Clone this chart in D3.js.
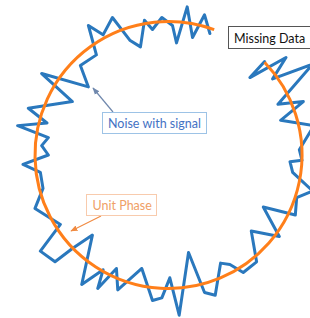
<!DOCTYPE html>
<html>
<head>
<meta charset="utf-8">
<script src="https://cdn.jsdelivr.net/npm/d3@7"></script>
<style>
  html, body { margin: 0; padding: 0; background: #ffffff; }
  svg { display: block; }
</style>
</head>
<body>
<div id="chart"></div>
<script>
// ---- data (unit-phase coordinates) ----
const noiseX = [0.72, 0.61, 0.88, 0.78, 1.08, 0.82, 1.01, 0.84, 1.09, 0.98, 1.00, 0.91, 0.93, 1.08, 0.96, 0.95,
  0.71, 0.83, 0.62, 0.66, 0.56, 0.46, 0.39, 0.35, 0.27, 0.15, 0.08, 0.01, -0.05, -0.12, -0.20, -0.38,
  -0.39, -0.53, -0.49, -0.65, -0.57, -0.72, -0.85, -0.96, -0.81, -1.00, -0.94, -0.96, -1.09, -0.90, -0.95, -0.90,
  -1.13, -0.91, -1.05, -0.72, -0.95, -0.60, -0.66, -0.54, -0.60, -0.49, -0.42, -0.29, -0.21, -0.18, -0.12, -0.05,
  0.03, 0.06, 0.14, 0.18, 0.27, 0.31];
const noiseY = [0.70, 0.58, 0.73, 0.57, 0.68, 0.38, 0.40, 0.26, 0.22, 0.04, -0.04, -0.05, -0.13, -0.27, -0.32, -0.45,
  -0.39, -0.61, -0.57, -0.80, -0.88, -0.82, -0.81, -1.05, -1.03, -0.73, -1.20, -0.92, -1.07, -1.09, -0.85, -1.01,
  -0.85, -1.00, -0.86, -0.97, -0.60, -0.70, -0.80, -0.72, -0.52, -0.40, -0.25, -0.13, -0.07, 0.00, 0.07, 0.13,
  0.22, 0.24, 0.35, 0.40, 0.61, 0.51, 0.67, 0.75, 0.97, 0.90, 1.03, 0.86, 0.81, 1.01, 0.94, 1.03,
  0.97, 0.84, 1.11, 0.88, 1.05, 0.91];
const phaseRadius = 1;
const phaseStartDeg = 46;   // clockwise from 12 o'clock
const phaseEndDeg = 380;
const labelMissing = "Missing Data";
const labelNoise = "Noise with signal";
const labelPhase = "Unit Phase";

// ---- layout ----
const W = 310, H = 318;
const cx = 168.5, cy = 155, R = 133.5;

const svg = d3.select("#chart").append("svg")
  .attr("width", W).attr("height", H)
  .attr("viewBox", `0 0 ${W} ${H}`);

const x = d3.scaleLinear().domain([-1, 1]).range([cx - R, cx + R]);
const y = d3.scaleLinear().domain([-1, 1]).range([cy + R, cy - R]);
const r = d3.scaleLinear().domain([0, 1]).range([0, R]);

const blue = "#2a78bd";
const orange = "#ff7f1a";

// noisy signal
const pts = noiseX.map((v, i) => [v, noiseY[i]]);
svg.append("path")
  .datum(pts)
  .attr("fill", "none")
  .attr("stroke", blue)
  .attr("stroke-width", 3)
  .attr("stroke-linejoin", "round")
  .attr("stroke-linecap", "round")
  .attr("d", d3.line().x(d => x(d[0])).y(d => y(d[1])));

// unit phase arc
const toRad = Math.PI / 180;
const p = d3.path();
const a0 = phaseStartDeg * toRad - Math.PI / 2;
const a1 = phaseEndDeg * toRad - Math.PI / 2;
p.moveTo(cx + r(phaseRadius) * Math.cos(a0), cy + r(phaseRadius) * Math.sin(a0));
p.arc(cx, cy, r(phaseRadius), a0, a1, false);
svg.append("path")
  .attr("d", p.toString())
  .attr("fill", "none")
  .attr("stroke", orange)
  .attr("stroke-width", 3);

// arrow markers
const defs = svg.append("defs");
function marker(id, color) {
  defs.append("marker")
    .attr("id", id)
    .attr("viewBox", "0 0 10 10")
    .attr("refX", 9).attr("refY", 5)
    .attr("markerWidth", 6).attr("markerHeight", 6)
    .attr("orient", "auto")
    .append("path").attr("d", "M0,1 L10,5 L0,9 z").attr("fill", color);
}
marker("arrBlue", "#7088ad");
marker("arrOrange", "#f08a40");

// Missing Data box
svg.append("rect").attr("x", 228.5).attr("y", 26.5).attr("width", 90).attr("height", 22)
  .attr("fill", "#fff").attr("stroke", "#555").attr("stroke-width", 1);
svg.append("text").attr("x", 234).attr("y", 42.5)
  .attr("font-family", "Lato, 'Open Sans', sans-serif").attr("font-size", 12.5)
  .attr("fill", "#111").text(labelMissing);

// Noise with signal
svg.append("line").attr("x1", 113).attr("y1", 112).attr("x2", 93).attr("y2", 88)
  .attr("stroke", "#7088ad").attr("stroke-width", 1.2).attr("marker-end", "url(#arrBlue)");
svg.append("rect").attr("x", 102.5).attr("y", 112.5).attr("width", 104).attr("height", 21)
  .attr("fill", "#fff").attr("stroke", "#9dc3e6").attr("stroke-width", 1);
svg.append("text").attr("x", 108).attr("y", 128)
  .attr("font-family", "Lato, 'Open Sans', sans-serif").attr("font-size", 12.5)
  .attr("fill", "#4472c4").text(labelNoise);

// Unit Phase
svg.append("line").attr("x1", 101).attr("y1", 216).attr("x2", 71).attr("y2", 231)
  .attr("stroke", "#f08a40").attr("stroke-width", 1.2).attr("marker-end", "url(#arrOrange)");
svg.append("rect").attr("x", 86.5).attr("y", 194.5).attr("width", 70).attr("height", 21)
  .attr("fill", "#fff").attr("stroke", "#f8cbad").attr("stroke-width", 1);
svg.append("text").attr("x", 92.5).attr("y", 210)
  .attr("font-family", "Lato, 'Open Sans', sans-serif").attr("font-size", 12.5)
  .attr("fill", "#f0a066").text(labelPhase);
</script>
</body>
</html>
